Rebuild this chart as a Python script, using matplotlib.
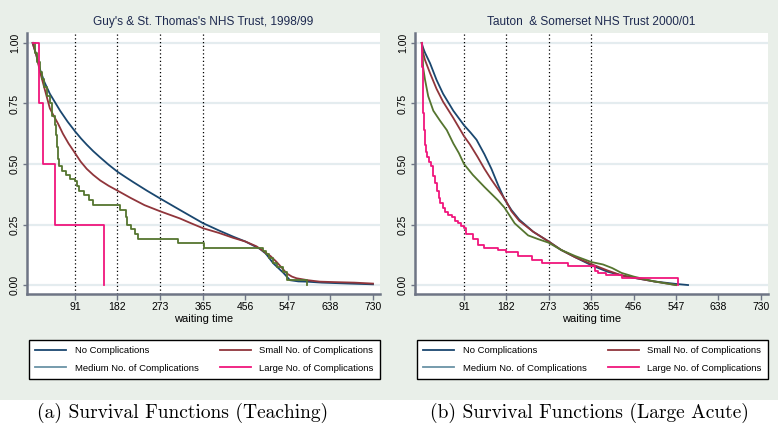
import matplotlib
matplotlib.use("Agg")
import matplotlib.pyplot as plt
from matplotlib.lines import Line2D
from matplotlib.patches import Rectangle

# --- data ---
ticks_x = [91, 182, 273, 365, 456, 547, 638, 730]
ticks_y = [0.0, 0.25, 0.5, 0.75, 1.0]
ref_days = [91, 182, 273, 365]

labels = ["No Complications", "Small No. of Complications",
          "Medium No. of Complications", "Large No. of Complications"]

# Guy's & St. Thomas's (teaching)
guy_none_t = [0, 8, 16, 25, 37, 48, 59, 75, 91, 104, 116, 130, 145, 163, 182, 200, 216,
              245, 273, 316, 365, 400, 430, 456, 487, 500, 516, 538, 552, 570, 588, 620,
              680, 730]
guy_none_s = [1.0, 0.95, 0.89, 0.84, 0.79, 0.755, 0.72, 0.675, 0.635, 0.605, 0.58, 0.553,
              0.527, 0.497, 0.468, 0.445, 0.425, 0.39, 0.358, 0.31, 0.256, 0.225, 0.2,
              0.18, 0.15, 0.13, 0.09, 0.05, 0.02, 0.015, 0.014, 0.01, 0.006, 0.003]
guy_small_t = [0, 8, 16, 30, 37, 45, 55, 65, 77, 91, 103, 116, 130, 145, 163, 182, 210,
               240, 273, 316, 340, 365, 400, 430, 456, 480, 495, 510, 523, 535, 545, 556,
               566, 590, 616, 650, 690, 730]
guy_small_s = [1.0, 0.95, 0.88, 0.78, 0.73, 0.70, 0.665, 0.625, 0.585, 0.545, 0.51,
               0.48, 0.455, 0.432, 0.41, 0.39, 0.36, 0.33, 0.305, 0.275, 0.255, 0.235,
               0.215, 0.195, 0.18, 0.16, 0.14, 0.12, 0.096, 0.07, 0.048, 0.035, 0.028,
               0.02, 0.014, 0.012, 0.01, 0.006]
guy_med_t = [0, 5, 10, 15, 20, 25, 30, 37, 42, 47, 50, 53, 55, 57, 62, 72, 80, 91, 95,
             100, 110, 120, 130, 187, 200, 203, 210, 220, 225, 312, 368, 495, 500, 507,
             515, 525, 537, 545, 588]
guy_med_s = [1.0, 0.96, 0.92, 0.88, 0.85, 0.82, 0.78, 0.75, 0.70, 0.66, 0.62, 0.57, 0.52,
             0.49, 0.47, 0.455, 0.44, 0.43, 0.41, 0.39, 0.37, 0.35, 0.33, 0.31, 0.28,
             0.25, 0.23, 0.21, 0.19, 0.175, 0.155, 0.14, 0.13, 0.11, 0.09, 0.075, 0.055,
             0.02, 0.0]
guy_large_t = [0, 14, 22, 48, 153]
guy_large_s = [1.0, 0.75, 0.5, 0.25, 0.0]

# Tauton & Somerset (large acute)
tau_none_t = [0, 3, 7, 18, 32, 46, 68, 91, 105, 118, 135, 150, 165, 178, 193, 210, 240,
              273, 300, 330, 367, 400, 430, 456, 500, 545, 573]
tau_none_s = [1.0, 0.98, 0.96, 0.916, 0.847, 0.79, 0.72, 0.66, 0.63, 0.60, 0.54, 0.48,
              0.41, 0.355, 0.31, 0.27, 0.22, 0.18, 0.145, 0.115, 0.08, 0.055, 0.04, 0.03,
              0.015, 0.005, 0.0]
tau_small_t = [0, 3, 7, 18, 32, 46, 68, 91, 104, 120, 135, 150, 170, 182, 193, 210, 240,
               273, 300, 330, 367, 400, 430, 456, 500, 547]
tau_small_s = [1.0, 0.96, 0.93, 0.875, 0.81, 0.757, 0.69, 0.615, 0.58, 0.53, 0.48, 0.435,
               0.38, 0.345, 0.305, 0.265, 0.22, 0.18, 0.145, 0.115, 0.085, 0.06, 0.04,
               0.03, 0.015, 0.0]
tau_med_t = [0, 2, 3, 7, 14, 25, 39, 54, 68, 80, 91, 110, 135, 164, 178, 200, 229, 250,
             273, 300, 330, 365, 390, 410, 430, 456, 500, 547]
tau_med_s = [1.0, 0.96, 0.90, 0.85, 0.78, 0.72, 0.68, 0.64, 0.585, 0.545, 0.50, 0.455,
             0.405, 0.35, 0.32, 0.255, 0.205, 0.19, 0.175, 0.145, 0.12, 0.095, 0.085,
             0.07, 0.05, 0.035, 0.015, 0.0]
tau_large_t = [0, 1, 2, 3, 5, 7, 9, 12, 16, 20, 24, 28, 33, 37, 40, 45, 50, 57, 65, 72,
               78, 85, 91, 95, 110, 122, 135, 165, 182, 207, 238, 259, 315, 372, 380,
               396, 431, 552]
tau_large_s = [1.0, 0.90, 0.80, 0.71, 0.64, 0.58, 0.55, 0.53, 0.51, 0.49, 0.45, 0.42,
               0.39, 0.36, 0.34, 0.32, 0.30, 0.29, 0.28, 0.265, 0.255, 0.245, 0.235,
               0.21, 0.19, 0.165, 0.155, 0.145, 0.135, 0.12, 0.105, 0.09, 0.08, 0.06,
               0.05, 0.04, 0.03, 0.0]

# colours (Stata s2color look)
c_navy = "#1a476f"
c_maroon = "#90353b"
c_green = "#55752f"
c_medleg = "#6a93a6"
c_pink = "#f0167c"
spine_c = "#6e7585"
grid_c = "#e4ecef"

plt.rcParams["font.family"] = "Liberation Sans"

W, H = 778, 438
fig = plt.figure(figsize=(W / 100, H / 100), dpi=100)
fig.patch.set_facecolor("white")
# stippled background behind both panels
fig.patches.append(Rectangle((0, 38 / H), 1, 1 - 38 / H, transform=fig.transFigure,
                             facecolor="#e9efe9", edgecolor="none", zorder=-10))

panels = [
    (27, "Guy's & St. Thomas's NHS Trust, 1998/99", -12,
     [(guy_none_t, guy_none_s, False), (guy_small_t, guy_small_s, False),
      (guy_med_t, guy_med_s, True), (guy_large_t, guy_large_s, True)]),
    (415, "Tauton  & Somerset NHS Trust 2000/01", -14.4,
     [(tau_none_t, tau_none_s, False), (tau_small_t, tau_small_s, False),
      (tau_med_t, tau_med_s, False), (tau_large_t, tau_large_s, True)]),
]
curve_cols = [c_navy, c_maroon, c_green, c_pink]
leg_cols = [c_navy, c_maroon, c_medleg, c_pink]

for left_px, title, x0, curves in panels:
    ax = fig.add_axes([left_px / W, (H - 294) / H, 353 / W, 261 / H])
    ax.set_facecolor("white")
    ax.set_xlim(x0, 745)
    ax.set_ylim(-0.037, 1.041)

    for yv in ticks_y:
        ax.axhline(yv, color=grid_c, lw=1.6, zorder=0)
    for d in ref_days:
        ax.axvline(d, color="black", lw=0.9, ls=(0, (1, 2)), zorder=1)

    for (t, s, stepped), col in zip(curves, curve_cols):
        if stepped:
            ax.step(t, s, where="post", color=col, lw=1.3, zorder=3)
        else:
            ax.plot(t, s, color=col, lw=1.3, zorder=3)

    for side in ("top", "right"):
        ax.spines[side].set_visible(False)
    for side in ("left", "bottom"):
        ax.spines[side].set_color(spine_c)
        ax.spines[side].set_linewidth(1.8)

    ax.set_xticks(ticks_x)
    ax.set_yticks(ticks_y)
    ax.set_yticklabels([f"{v:.2f}" for v in ticks_y], rotation=90, va="center")
    ax.tick_params(axis="x", length=4, width=1, color=spine_c, pad=2, labelsize=7.5)
    ax.tick_params(axis="y", length=3, width=1, color=spine_c, pad=2, labelsize=7.5)
    ax.set_xlabel("waiting time", fontsize=8, labelpad=1)
    ax.set_title(title, fontsize=8.6, color="#1e2a50", pad=6)

    handles = [Line2D([], [], color=c, lw=1.3) for c in leg_cols]
    order = [0, 2, 1, 3]
    leg = ax.legend([handles[i] for i in order], [labels[i] for i in order],
                    ncol=2, loc="center", mode="expand",
                    bbox_to_anchor=(0.006, -0.337, 0.994, 0.172),
                    borderaxespad=0, fancybox=False, framealpha=1,
                    edgecolor="black", fontsize=6.8, handlelength=3.3,
                    handletextpad=0.9, labelspacing=0.85, borderpad=0.65)
    leg.get_frame().set_linewidth(1.0)

fig.text(183 / W, 1 - 413 / H, "(a) Survival Functions (Teaching)",
         family="cmr10", fontsize=14, ha="center", va="center")
fig.text(589 / W, 1 - 413 / H, "(b) Survival Functions (Large Acute)",
         family="cmr10", fontsize=14, ha="center", va="center")

fig.savefig("out.png", dpi=100)
